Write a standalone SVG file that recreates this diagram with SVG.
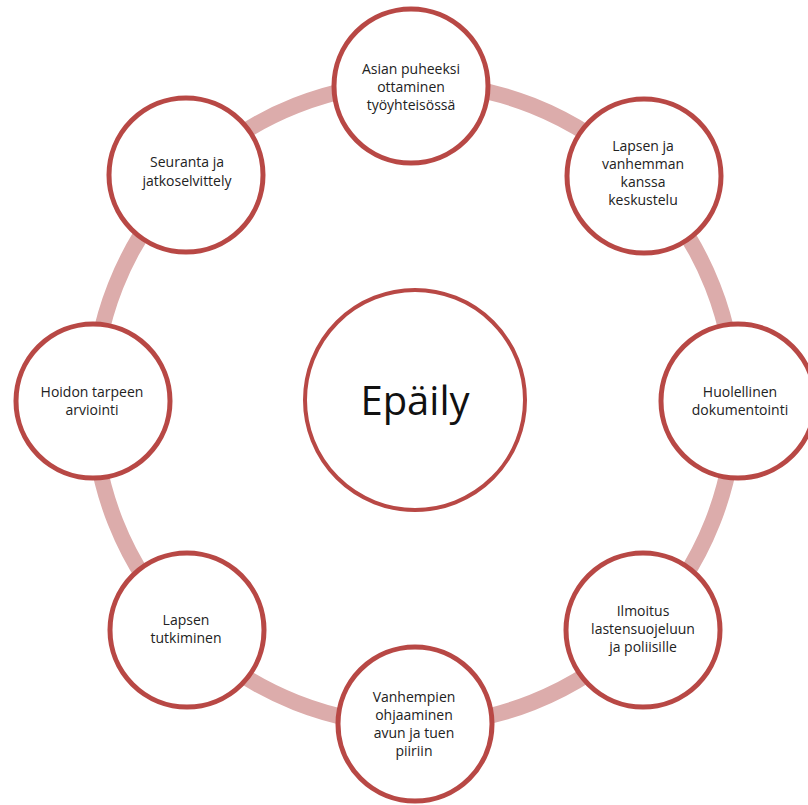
<svg xmlns="http://www.w3.org/2000/svg" width="808" height="805" viewBox="0 0 808 805">
<style>
.node{fill:#ffffff;stroke:#B84845;stroke-width:5}
.hub{fill:#ffffff;stroke:#B84845;stroke-width:4}
.ring{fill:none;stroke:#DCACAB;stroke-width:16}
.t{font-family:"Open Sans","Noto Sans",sans-serif;font-size:14px;fill:#222222;text-anchor:middle}
.big{font-family:"Open Sans","Noto Sans",sans-serif;font-size:40px;fill:#111111;text-anchor:middle}
</style>
<rect width="808" height="805" fill="#ffffff"/>
<g id="connectors">
<circle class="ring" cx="414" cy="404" r="321"/>
</g>
<g id="center">
<circle class="hub" cx="415" cy="400" r="110"/>
<text class="big" x="415" y="415">Epäily</text>
</g>
<g id="n1">
<circle class="node" cx="411" cy="86" r="77"/>
<text class="t" x="411" y="74">Asian puheeksi</text>
<text class="t" x="411" y="92">ottaminen</text>
<text class="t" x="411" y="110">työyhteisössä</text>
</g>
<g id="n2">
<circle class="node" cx="644" cy="176" r="77"/>
<text class="t" x="643" y="151">Lapsen ja</text>
<text class="t" x="643" y="169">vanhemman</text>
<text class="t" x="643" y="187">kanssa</text>
<text class="t" x="643" y="205">keskustelu</text>
</g>
<g id="n3">
<circle class="node" cx="738" cy="401" r="77"/>
<text class="t" x="740" y="397">Huolellinen</text>
<text class="t" x="740" y="415">dokumentointi</text>
</g>
<g id="n4">
<circle class="node" cx="643" cy="630" r="77"/>
<text class="t" x="643" y="616">Ilmoitus</text>
<text class="t" x="643" y="634">lastensuojeluun</text>
<text class="t" x="643" y="652">ja poliisille</text>
</g>
<g id="n5">
<circle class="node" cx="415" cy="724" r="77"/>
<text class="t" x="414" y="702">Vanhempien</text>
<text class="t" x="414" y="720">ohjaaminen</text>
<text class="t" x="414" y="738">avun ja tuen</text>
<text class="t" x="414" y="756">piiriin</text>
</g>
<g id="n6">
<circle class="node" cx="187" cy="630" r="77"/>
<text class="t" x="186" y="625">Lapsen</text>
<text class="t" x="186" y="643">tutkiminen</text>
</g>
<g id="n7">
<circle class="node" cx="93" cy="401" r="77"/>
<text class="t" x="92" y="397">Hoidon tarpeen</text>
<text class="t" x="92" y="415">arviointi</text>
</g>
<g id="n8">
<circle class="node" cx="186" cy="175" r="77"/>
<text class="t" x="187" y="167">Seuranta ja</text>
<text class="t" x="187" y="186">jatkoselvittely</text>
</g>
</svg>
